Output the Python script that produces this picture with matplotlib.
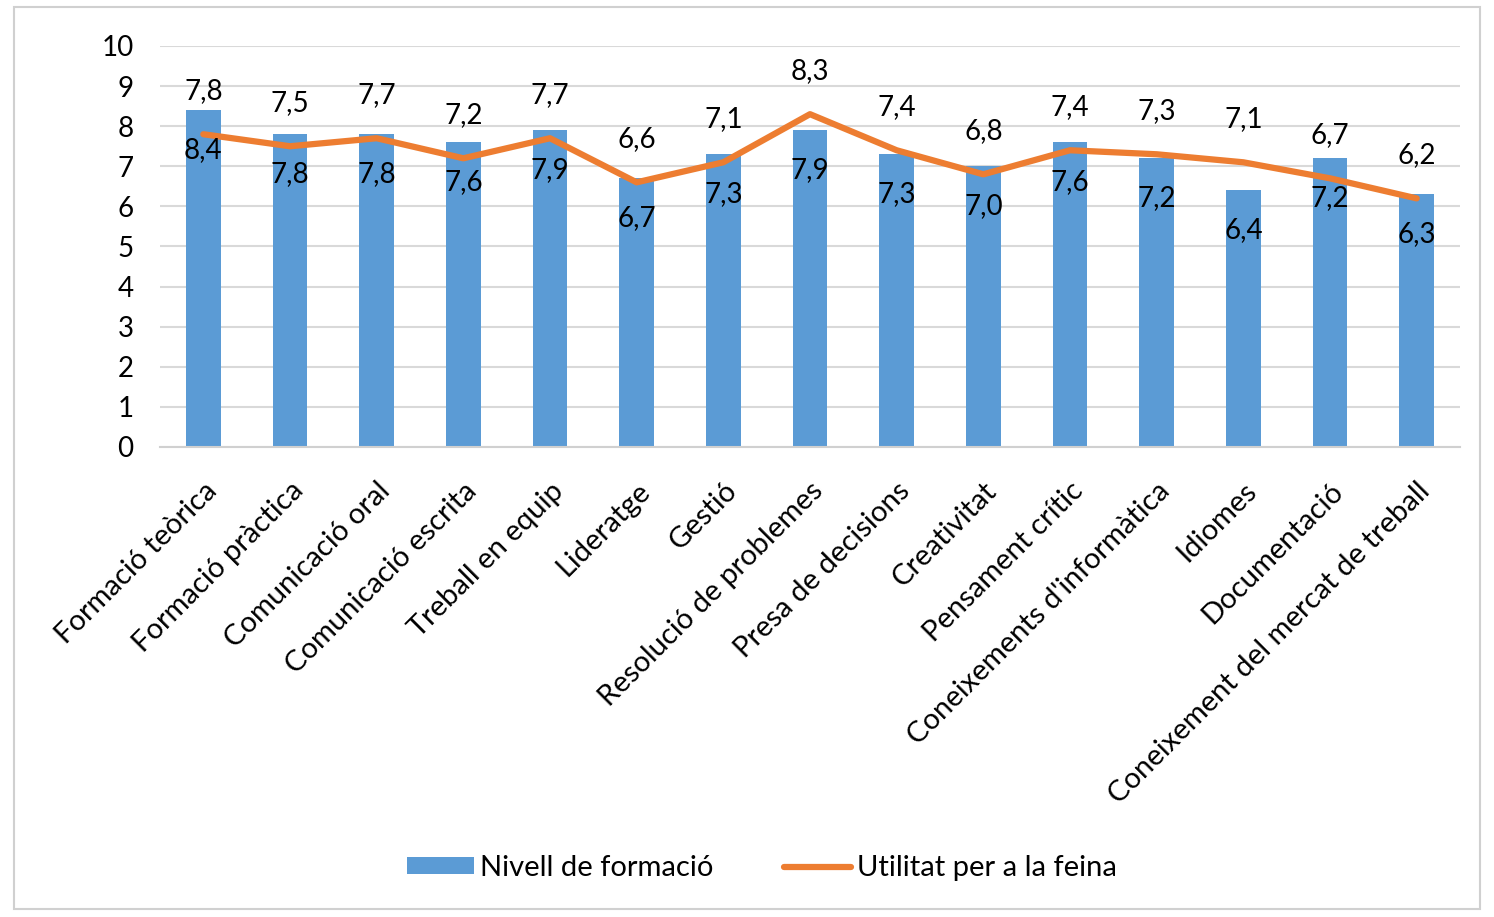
import numpy as np
import matplotlib.pyplot as plt
from matplotlib.patches import Rectangle

categories = ["Formació teòrica", "Formació pràctica", "Comunicació oral",
              "Comunicació escrita", "Treball en equip", "Lideratge", "Gestió",
              "Resolució de problemes", "Presa de decisions", "Creativitat",
              "Pensament crític", "Coneixements d'informàtica", "Idiomes",
              "Documentació", "Coneixement del mercat de treball"]
nivell = [8.4, 7.8, 7.8, 7.6, 7.9, 6.7, 7.3, 7.9, 7.3, 7.0, 7.6, 7.2, 6.4, 7.2, 6.3]
utilitat = [7.8, 7.5, 7.7, 7.2, 7.7, 6.6, 7.1, 8.3, 7.4, 6.8, 7.4, 7.3, 7.1, 6.7, 6.2]

plt.rcParams['font.family'] = ['Lato', 'DejaVu Sans']

fig = plt.figure(figsize=(14.94, 9.17), dpi=100)
ax = fig.add_axes([160/1494, 1-447/917, 1300/1494, 401/917])

blue = "#5B9BD5"
orange = "#ED7D31"
x = np.arange(len(categories))

bars = ax.bar(x, nivell, width=0.4, color=blue, label="Nivell de formació", zorder=2)
line, = ax.plot(x, utilitat, color=orange, lw=4.5, solid_capstyle='round',
                label="Utilitat per a la feina", zorder=3)

def fmt(v):
    return f"{v:.1f}".replace(".", ",")

for xi, v in zip(x, nivell):
    ax.annotate(fmt(v), (xi, v), xytext=(0, -19), textcoords="offset points",
                ha="center", va="top", fontsize=20, zorder=4)
for xi, v in zip(x, utilitat):
    ax.annotate(fmt(v), (xi, v), xytext=(0, 22), textcoords="offset points",
                ha="center", va="bottom", fontsize=20, zorder=4)

ax.set_xlim(-0.5, len(categories) - 0.5)
ax.set_ylim(0, 10)
ax.set_yticks(range(0, 11))
ax.yaxis.grid(True, color="#d9d9d9", lw=1.5, zorder=0)
ax.set_axisbelow(True)
for s in ["top", "right", "left"]:
    ax.spines[s].set_visible(False)
ax.spines["bottom"].set_color("#d0d0d0")
ax.spines["bottom"].set_linewidth(1.5)
ax.tick_params(length=0, labelsize=20)
ax.tick_params(axis='y', pad=19)
ax.set_xticks(x)
ax.set_xticklabels(categories, rotation=45, ha="right", rotation_mode="anchor",
                   fontsize=21)
ax.tick_params(axis='x', pad=22)

fig.legend([bars, line], ["Nivell de formació", "Utilitat per a la feina"],
           loc="center", bbox_to_anchor=(0.51, 1-868/917), ncol=2, frameon=False,
           fontsize=21, handlelength=2.3, handleheight=0.5, columnspacing=2.4,
           handletextpad=0.2)

fig.patches.append(Rectangle((14/1494, 8/917), 1466/1494, 902/917,
                             transform=fig.transFigure, fill=False,
                             edgecolor="#d0d0d0", lw=1.5))

fig.savefig("out.png", dpi=100)
